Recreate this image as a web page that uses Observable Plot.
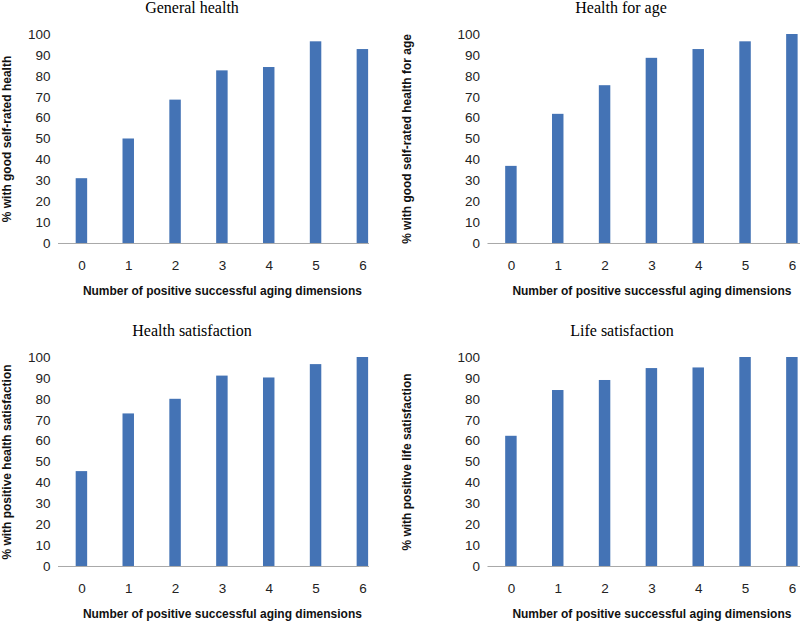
<!DOCTYPE html>
<html>
<head>
<meta charset="utf-8">
<script src="https://cdn.jsdelivr.net/npm/d3@7"></script>
<script src="https://cdn.jsdelivr.net/npm/@observablehq/plot@0.6"></script>
<style>
  html, body { margin: 0; padding: 0; background: #fff; }
  #root { position: relative; width: 800px; height: 621px; overflow: hidden; background: #fff; }
  .panel { position: absolute; overflow: hidden; }
  .panel svg { max-width: none !important; }
  .title { position: absolute; font-family: "Liberation Serif", "Times New Roman", serif; font-size: 16px; color: #000; transform: translateX(-50%); white-space: nowrap; line-height: 1; }
</style>
</head>
<body>
<div id="root"></div>
<script>
const dimensions = ["0", "1", "2", "3", "4", "5", "6"];
const generalHealth = [31, 50, 68.6, 82.6, 84.2, 96.5, 92.8];
const healthForAge = [36.9, 61.8, 75.5, 88.6, 92.8, 96.5, 100];
const healthSatisfaction = [45.4, 73, 80, 91.1, 90.2, 96.6, 100];
const lifeSatisfaction = [62.3, 84.2, 89, 94.7, 95, 100, 100];
const yTicks = [0, 10, 20, 30, 40, 50, 60, 70, 80, 90, 100];
const xTitle = "Number of positive successful aging dimensions";

const panels = [
  {title: "General health", values: generalHealth, ylabel: "% with good self-rated health", left: 0, top: 0, clip: 369, ml: 58, titleX: 192, titleY: 0},
  {title: "Health for age", values: healthForAge, ylabel: "% with good self-rated health for age", left: 400, top: 0, clip: 400, ml: 87.5, titleX: 221, titleY: 0},
  {title: "Health satisfaction", values: healthSatisfaction, ylabel: "% with positive health satisfaction", left: 0, top: 323, clip: 369, ml: 58, titleX: 192, titleY: 323},
  {title: "Life satisfaction", values: lifeSatisfaction, ylabel: "% with positive life satisfaction", left: 400, top: 323, clip: 400, ml: 87.5, titleX: 222, titleY: 323}
];

const root = document.getElementById("root");
const band = 46.83;
const fontFam = "'Liberation Sans', Arial, sans-serif";

for (const p of panels) {
  const data = dimensions.map((d, i) => ({dim: d, value: p.values[i]}));
  const width = p.ml + band * 7;
  const chart = Plot.plot({
    width,
    height: 298,
    marginTop: 34,
    marginBottom: 55,
    marginLeft: p.ml,
    marginRight: 0,
    style: {fontFamily: fontFam, fontSize: "13px", color: "#222", background: "transparent", overflow: "visible", maxWidth: "none"},
    x: {domain: dimensions, paddingInner: 0.755, paddingOuter: 0.3775, round: false, label: null},
    y: {domain: [0, 100], label: null},
    marks: [
      Plot.gridY(yTicks, {stroke: "#8a8a8a", strokeOpacity: 1, strokeWidth: 1, x1: p.ml - 4}),
      Plot.barY(data, {x: "dim", y: "value", fill: "#4473b5"}),
      Plot.ruleX([0], {frameAnchor: "left", stroke: "#b0b0b0"}),
      Plot.ruleY([0], {stroke: "#a8a8a8"}),
      Plot.axisX({tickSize: 0, tickPadding: 17, fontSize: 13.5, label: null}),
      Plot.axisY(yTicks, {tickSize: 0, tickPadding: 8, fontSize: 13.5, label: null}),
      Plot.text([xTitle], {frameAnchor: "bottom", textAnchor: "middle", dy: 52, fontWeight: "bold", fontSize: 12, fill: "#111"}),
      Plot.text([p.ylabel], {frameAnchor: "left", textAnchor: "middle", dx: -(p.ml - 7), rotate: -90, fontWeight: "bold", fontSize: 12, fill: "#111"})
    ]
  });
  const div = document.createElement("div");
  div.className = "panel";
  div.style.left = p.left + "px";
  div.style.top = p.top + "px";
  div.style.width = p.clip + "px";
  div.style.height = "298px";
  div.appendChild(chart);
  root.appendChild(div);

  const t = document.createElement("div");
  t.className = "title";
  t.textContent = p.title;
  t.style.left = (p.left + p.titleX) + "px";
  t.style.top = p.titleY + "px";
  root.appendChild(t);
}
</script>
</body>
</html>
